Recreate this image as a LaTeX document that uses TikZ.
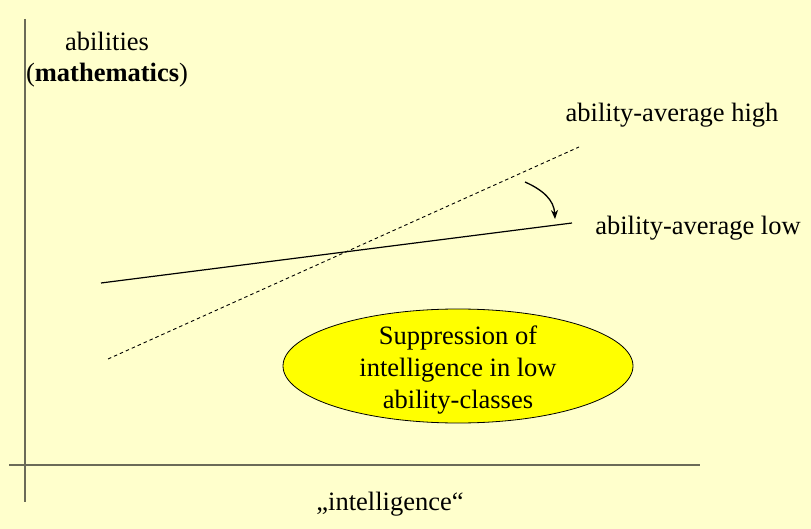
\documentclass[tikz,border=0pt]{standalone}
\usepackage{fontspec}
\setmainfont{Liberation Serif}
\usetikzlibrary{shapes.geometric,arrows.meta}
\definecolor{bgyellow}{HTML}{FFFFCC}
\definecolor{axisgrey}{HTML}{6B6B58}
\definecolor{ellyellow}{HTML}{FFFF00}
\begin{document}
\begin{tikzpicture}[x=1pt,y=-1pt,
  lbl/.style={font=\fontsize{26.5}{32}\selectfont, inner sep=0pt, anchor=base, align=center},
  axisline/.style={draw=axisgrey, line width=1.6pt},
  solidline/.style={draw=black, line width=1.2pt},
  dashline/.style={draw=black, line width=0.9pt, dash pattern=on 3.5pt off 3pt},
  bubble/.style={ellipse, draw=black, line width=0.8pt, fill=ellyellow, minimum width=350pt, minimum height=114pt, inner sep=0pt},
  bendarrow/.style={draw=black, line width=1.3pt, -{Stealth[length=9pt,width=7pt]}}]
\fill[bgyellow] (0,0) rectangle (811,529);
\useasboundingbox (0,0) rectangle (811,529);
% axes
\coordinate (ytop) at (25,19);
\coordinate (ybot) at (25,502);
\coordinate (xleft) at (9,465);
\coordinate (xright) at (700,465);
\draw[axisline, line width=1.3pt] (ytop) -- (ybot);
\draw[axisline, line width=2pt] (xleft) -- (xright);
% axis labels
\node[lbl] (ab1) at (107,51) {abilities};
\node[lbl] (ab2) at (107,82) {(\textbf{mathematics})};
\node[lbl] (intel) at (390,510) {„intelligence“};
% lines
\coordinate (lowA) at (101,283);
\coordinate (lowB) at (572,223);
\coordinate (highA) at (108,359);
\coordinate (highB) at (579,147);
\draw[dashline] (highA) -- (highB);
\draw[solidline] (lowA) -- (lowB);
\node[lbl] (hightxt) at (672,122) {ability-average high};
\node[lbl] (lowtxt) at (698,235) {ability-average low};
% curved arrow
\coordinate (arrA) at (525,182);
\coordinate (arrB) at (555,219);
\draw[bendarrow] (arrA) .. controls (543,190) and (554,200) .. (arrB);
% ellipse
\node[bubble] (supp) at (458,366) {};
\node[lbl] (supptxt) at (458,408) {Suppression of\\intelligence in low\\ability-classes};
\end{tikzpicture}
\end{document}
